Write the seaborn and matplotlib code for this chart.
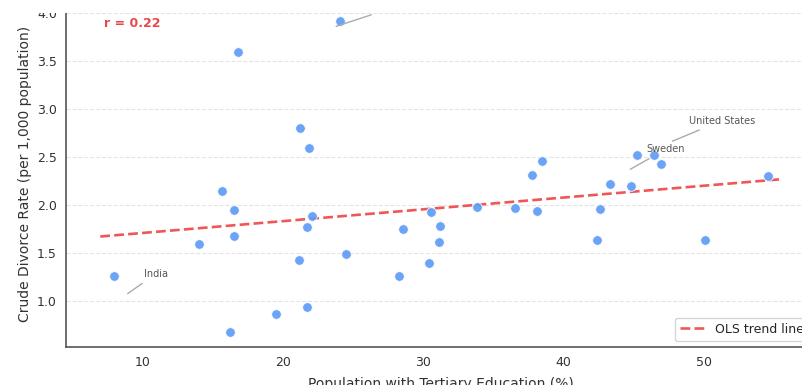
import numpy as np
import pandas as pd
import matplotlib
matplotlib.use("Agg")
import matplotlib.pyplot as plt
from matplotlib.patches import Rectangle
from matplotlib.ticker import MultipleLocator
import seaborn as sns

# ---- data ----
tertiary = [8.0, 14.06, 15.66, 16.54, 16.51, 16.27, 16.84, 19.53, 21.24, 21.83,
            21.15, 21.74, 22.09, 21.74, 24.04, 24.5, 28.25, 28.56, 30.43, 30.58,
            31.22, 31.1, 33.8, 36.56, 38.13, 37.78, 38.47, 42.41, 42.57, 43.33,
            44.8, 45.19, 46.45, 46.92, 50.08, 54.57]
divorce = [1.26, 1.59, 2.14, 1.95, 1.68, 0.68, 3.594, 0.86, 2.80, 2.59,
           1.43, 1.77, 1.885, 0.94, 3.92, 1.49, 1.26, 1.75, 1.40, 1.93,
           1.78, 1.61, 1.98, 1.97, 1.94, 2.31, 2.46, 1.63, 1.96, 2.22,
           2.20, 2.52, 2.52, 2.43, 1.635, 2.30]

label_names = ["India", "Sweden", "United States", "Russian Federation"]
label_x = [8.79, 44.57, 47.56, 23.61]
label_y = [1.06, 2.357, 2.653, 3.851]

r_text = "r = 0.22"

df = pd.DataFrame({"tertiary": tertiary, "divorce": divorce})

# ---- figure ----
sns.set_style("white")
plt.rcParams["font.family"] = ["DejaVu Sans"]

W, H = 802, 385
fig = plt.figure(figsize=(W / 100, H / 100), dpi=100)
ax = fig.add_axes([66 / W, 38 / H, 749 / W, 347 / H])

ax.set_xlim(4.56, 57.9)
ax.set_ylim(0.52, 4.135)
ax.yaxis.set_major_locator(MultipleLocator(0.5))
ax.xaxis.set_major_locator(MultipleLocator(10))

ax.grid(axis="y", linestyle="--", color="#e4e4e4", linewidth=0.8)
ax.grid(axis="x", visible=False)
ax.set_axisbelow(True)

sns.scatterplot(data=df, x="tertiary", y="divorce", ax=ax, color="#5f9cf5",
                s=48, edgecolor="white", linewidth=0.6, alpha=0.92, zorder=3)

# OLS fit computed from the data
slope, intercept = np.polyfit(df["tertiary"], df["divorce"], 1)
xs = np.array([df["tertiary"].min() - 1, df["tertiary"].max() + 1])
ax.plot(xs, intercept + slope * xs, linestyle="--", color="#ef4444", lw=1.9,
        alpha=0.9, label="OLS trend line", zorder=2)

for name, lx, ly in zip(label_names, label_x, label_y):
    ax.annotate(name, xy=(lx, ly), xytext=(19, 21.6), textcoords="offset pixels",
                ha="left", va="center", fontsize=7, color="#555555",
                arrowprops=dict(arrowstyle="-", color="#aaaaaa", lw=1))

ax.text(0.0504, 0.931, r_text, transform=ax.transAxes, ha="left", va="center",
        fontsize=9, fontweight="bold", color="#e8474b")

ax.set_xlabel("Population with Tertiary Education (%)", fontsize=10,
              color="#333333", labelpad=6)
ax.set_ylabel("Crude Divorce Rate (per 1,000 population)", fontsize=10,
              color="#333333")
ax.tick_params(axis="both", labelsize=9, colors="#333333", length=3, width=0.8)

for side in ["top", "right"]:
    ax.spines[side].set_visible(False)
for side in ["left", "bottom"]:
    ax.spines[side].set_color("#555555")
    ax.spines[side].set_linewidth(1.2)

leg = ax.legend(loc="lower right", fontsize=9, frameon=True)
leg.get_frame().set_edgecolor("#cccccc")

# the reference is cropped at the top: blank strip
fig.add_artist(Rectangle((0, 1 - 13 / H), 1, 13 / H, transform=fig.transFigure,
                         facecolor="white", edgecolor="none", zorder=10))

fig.savefig("out.png", dpi=100)
